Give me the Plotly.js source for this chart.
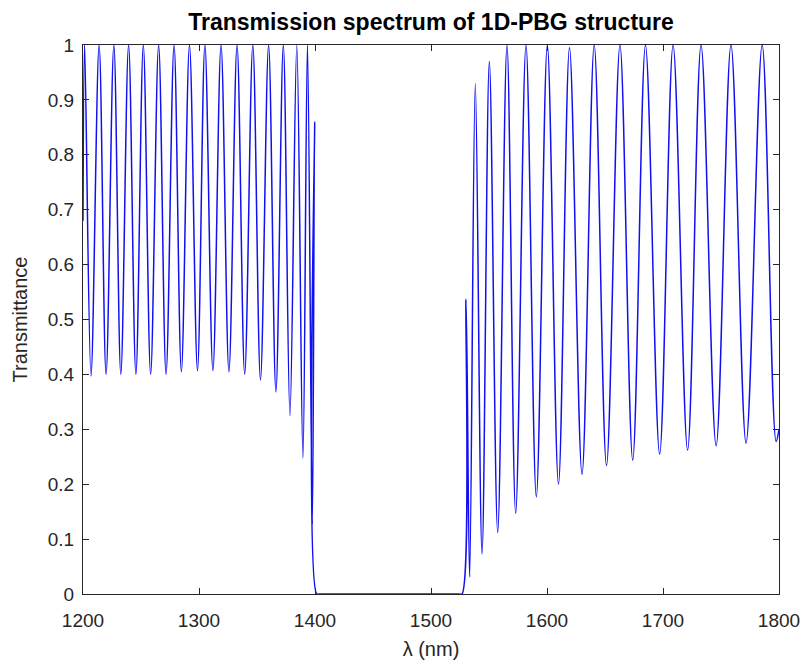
<!DOCTYPE html>
<html>
<head>
<meta charset="utf-8">
<script src="https://cdn.plot.ly/plotly-3.0.1.min.js"></script>
<style>
  html, body { margin: 0; padding: 0; background: #ffffff; }
  #chart { width: 806px; height: 662px; }
</style>
</head>
<body>
<div id="chart"></div>
<script>
// Wavelength (nm) of the read-off turning points of the spectrum, in order
const wavelength = [
  1200, 1201.4, 1206.9, 1213.9, 1219.9, 1226.6, 1232.6, 1239.3, 1245.6, 1252.0,
  1258.3, 1265.2, 1271.6, 1278.5, 1284.8, 1291.8, 1298.7, 1305.1, 1312.0, 1319.0,
  1325.8, 1332.8, 1339.4, 1346.4, 1353.0, 1360.0, 1366.3, 1372.7, 1378.4, 1384.3,
  1389.6, 1393.5, 1397.7, 1399.7, 1401.5, 1404, 1524, 1526.7, 1530.2, 1533.3,
  1538.2, 1544.0, 1550.3, 1557.5, 1565.5, 1573.0, 1581.9, 1590.8, 1600.3, 1609.9,
  1619.4, 1630.2, 1640.7, 1651.3, 1662.9, 1673.9, 1684.9, 1697.1, 1708.7, 1721.2,
  1732.8, 1745.8, 1758.6, 1771.6, 1785.5, 1797.5, 1800
];
// Transmittance at those wavelengths
const transmittance = [
  0.68, 1.0, 0.397, 1.0, 0.40, 1.0, 0.40, 1.0, 0.40, 1.0,
  0.40, 1.0, 0.40, 1.0, 0.405, 1.0, 0.407, 1.0, 0.407, 1.0,
  0.405, 1.0, 0.40, 1.0, 0.39, 1.0, 0.368, 1.0, 0.325, 1.0,
  0.247, 1.0, 0.127, 0.86, 0.0, 0.0, 0.0, 0.0, 0.537, 0.031,
  0.93, 0.073, 0.97, 0.112, 1.0, 0.147, 1.0, 0.177, 1.0, 0.20,
  0.995, 0.218, 1.0, 0.234, 1.0, 0.244, 1.0, 0.255, 1.0, 0.262,
  1.0, 0.27, 1.0, 0.275, 1.0, 0.278, 0.30
];
const xTicks = [1200, 1300, 1400, 1500, 1600, 1700, 1800];
const yTicks = [0, 0.1, 0.2, 0.3, 0.4, 0.5, 0.6, 0.7, 0.8, 0.9, 1];
const yTickText = ['0', '0.1', '0.2', '0.3', '0.4', '0.5', '0.6', '0.7', '0.8', '0.9', '1'];

const FONT = 'Liberation Sans, Arial, Helvetica, sans-serif';
const AX = '#262626';

const trace = {
  x: wavelength,
  y: transmittance,
  type: 'scatter',
  mode: 'lines',
  line: { color: '#1010f0', width: 1.5, shape: 'spline', smoothing: 1 },
  hoverinfo: 'x+y'
};

const axisCommon = {
  showgrid: false,
  zeroline: false,
  showline: true,
  linecolor: AX,
  linewidth: 1,
  mirror: 'ticks',
  ticks: 'inside',
  ticklen: 6,
  tickwidth: 1,
  tickcolor: AX,
  tickfont: { family: FONT, size: 19, color: AX },
  layer: 'below traces'
};

const layout = {
  width: 806,
  height: 662,
  margin: { l: 83, r: 27, t: 45, b: 68 },
  paper_bgcolor: '#ffffff',
  plot_bgcolor: '#ffffff',
  showlegend: false,
  title: {
    text: '<b>Transmission spectrum of 1D-PBG structure</b>',
    font: { family: FONT, size: 23, color: '#000000' },
    x: 0.5, xref: 'paper', xanchor: 'center',
    y: 1 - 22 / 662, yref: 'container', yanchor: 'middle'
  },
  xaxis: Object.assign({}, axisCommon, {
    range: [1200, 1800],
    tickmode: 'array',
    tickvals: xTicks,
    ticktext: xTicks.map(String),
    ticklabelstandoff: 9,
    title: { text: 'λ (nm)', font: { family: FONT, size: 20, color: AX }, standoff: 12 }
  }),
  yaxis: Object.assign({}, axisCommon, {
    range: [0, 1],
    tickmode: 'array',
    tickvals: yTicks,
    ticktext: yTickText,
    ticklabelstandoff: 4,
    title: { text: 'Transmittance', font: { family: FONT, size: 20, color: AX }, standoff: 14 }
  })
};

Plotly.newPlot('chart', [trace], layout, { displayModeBar: false, staticPlot: true });
</script>
</body>
</html>
